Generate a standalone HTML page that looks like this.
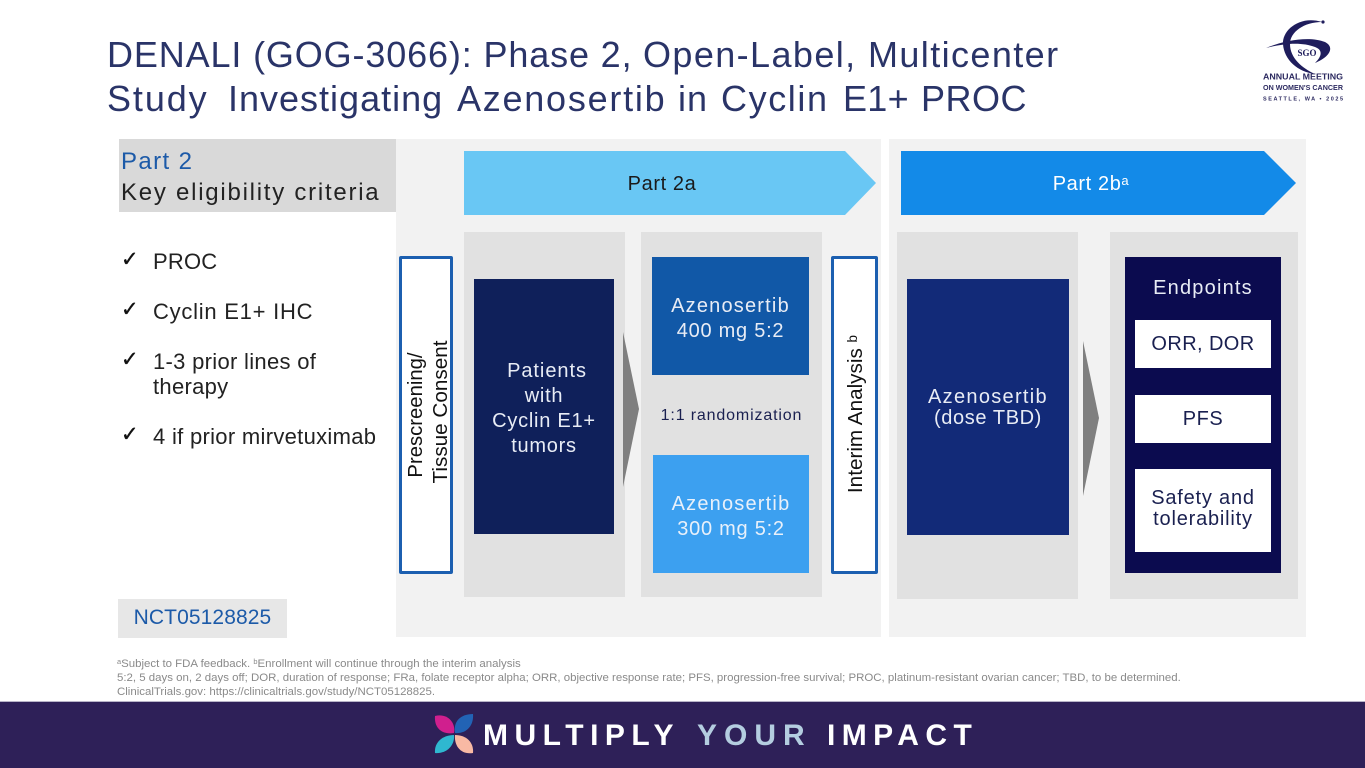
<!DOCTYPE html>
<html><head><meta charset="utf-8"><style>
html,body{margin:0;padding:0;background:#fff}
#p{position:relative;width:1365px;height:768px;overflow:hidden;background:#fff;font-family:"Liberation Sans",sans-serif}
.b{position:absolute}
.t{position:absolute;text-align:center;white-space:nowrap}
.w{position:absolute;white-space:nowrap;font-size:36px;line-height:45px;color:#2a3468}
.c{position:absolute;left:121px;font-family:"DejaVu Sans",sans-serif;font-size:21px;line-height:25px;color:#111;-webkit-text-stroke:.4px #111;white-space:nowrap}
.l{position:absolute;left:153px;font-size:22px;line-height:25px;color:#222;white-space:nowrap}
.m{position:absolute;white-space:nowrap;top:719px;font-size:30px;line-height:34px;font-weight:700}
sup{font-size:65%;line-height:0;vertical-align:baseline;position:relative;top:-.4em}
</style></head><body><div id="p">
<div class="w" style="left:107px;top:32px;letter-spacing:.86px">DENALI (GOG-3066): Phase 2,</div>
<div class="w" style="left:643px;top:32px;letter-spacing:1.4px">Open-Label,</div>
<div class="w" style="left:868px;top:32px;letter-spacing:1.4px">Multicenter</div>
<div class="w" style="left:107px;top:76px;letter-spacing:1.9px">Study</div>
<div class="w" style="left:228px;top:76px;letter-spacing:1px">Investigating</div>
<div class="w" style="left:457px;top:76px;letter-spacing:1.75px">Azenosertib</div>
<div class="w" style="left:678px;top:76px;letter-spacing:1px">in</div>
<div class="w" style="left:721px;top:76px;letter-spacing:1.6px">Cyclin</div>
<div class="w" style="left:843px;top:76px;letter-spacing:.3px">E1+</div>
<div class="w" style="left:921px;top:76px;letter-spacing:.5px">PROC</div>

<div class="b" style="left:396px;top:139px;width:485px;height:498px;background:#f2f2f2"></div>
<div class="b" style="left:889px;top:139px;width:417px;height:498px;background:#f2f2f2"></div>
<div class="b" style="left:119px;top:139px;width:277px;height:73px;background:#d9d9d9"></div>
<div class="t" style="left:121px;top:146px;text-align:left;font-size:24px;line-height:31px;color:#1c5aa8;letter-spacing:1.4px">Part 2<br><span style="color:#222;letter-spacing:1.75px">Key eligibility criteria</span></div>

<div class="b" style="left:464px;top:232px;width:161px;height:365px;background:#e1e1e1"></div>
<div class="b" style="left:641px;top:232px;width:181px;height:365px;background:#e1e1e1"></div>
<div class="b" style="left:897px;top:232px;width:181px;height:367px;background:#e1e1e1"></div>
<div class="b" style="left:1110px;top:232px;width:188px;height:367px;background:#e1e1e1"></div>

<svg class="b" style="left:0;top:0" width="1365" height="768">
<polygon points="464,151 845,151 876,183 845,215 464,215" fill="#69c7f4"/>
<polygon points="901,151 1264,151 1296,183 1264,215 901,215" fill="#138ae8"/>
<polygon points="623,332 639,409 623,487" fill="#7f7f7f"/>
<polygon points="1083,341 1099,418 1083,496" fill="#7f7f7f"/>
</svg>
<div class="t" style="left:464px;top:172px;width:396px;font-size:20px;line-height:24px;color:#1a1a1a;letter-spacing:.6px">Part 2a</div>
<div class="t" style="left:901px;top:172px;width:380px;font-size:20px;line-height:24px;color:#fff;letter-spacing:.6px">Part 2b<sup>a</sup></div>

<div class="c" style="top:247px">✓</div><div class="l" style="top:249px;letter-spacing:.2px">PROC</div>
<div class="c" style="top:297px">✓</div><div class="l" style="top:299px;letter-spacing:.75px">Cyclin E1+ IHC</div>
<div class="c" style="top:347px">✓</div><div class="l" style="top:349px;letter-spacing:.3px">1-3 prior lines of<br>therapy</div>
<div class="c" style="top:422px">✓</div><div class="l" style="top:424px;letter-spacing:.3px">4 if prior mirvetuximab</div>

<div class="b" style="left:118px;top:599px;width:169px;height:39px;background:#e7e7e7"></div>
<div class="t" style="left:118px;top:605px;width:169px;font-size:21px;line-height:26px;color:#1c5aa8;letter-spacing:.1px">NCT05128825</div>

<div class="b" style="left:399px;top:256px;width:48px;height:312px;border:3px solid #1c5fb0;background:#fff;border-radius:2px"></div>
<div class="t" style="left:427px;top:412px;width:0;height:0"><div style="position:absolute;left:-120px;top:-25px;width:240px;height:50px;transform:rotate(-90deg);font-size:20.7px;line-height:25px;color:#111"><span style="position:relative;left:-3px;top:1px;font-size:20.3px">Prescreening/</span><br>Tissue Consent</div></div>
<div class="b" style="left:831px;top:256px;width:41px;height:312px;border:3px solid #1c5fb0;background:#fff;border-radius:2px"></div>
<div class="t" style="left:856px;top:414px;width:0;height:0"><div style="position:absolute;left:-120px;top:-13px;width:240px;height:26px;transform:rotate(-90deg);font-size:20.7px;line-height:26px;color:#111">Interim Analysis <sup>b</sup></div></div>

<div class="b" style="left:474px;top:279px;width:140px;height:255px;background:#0f205a"></div>
<div class="t" style="left:474px;top:359px;width:140px;font-size:20px;line-height:25px;color:#e8ecf5;letter-spacing:.75px"><span style="position:relative;left:3px;letter-spacing:.95px">Patients</span><br>with<br>Cyclin E1+<br>tumors</div>

<div class="b" style="left:652px;top:257px;width:157px;height:118px;background:#1158a7"></div>
<div class="t" style="left:652px;top:294px;width:157px;font-size:20px;line-height:25px;color:#e8ecf5;letter-spacing:.75px"><span style="letter-spacing:1.2px">Azenosertib</span><br>400 mg 5:2</div>
<div class="t" style="left:641px;top:406px;width:181px;font-size:16px;line-height:20px;color:#1a2050;letter-spacing:.85px">1:1 randomization</div>
<div class="b" style="left:653px;top:455px;width:156px;height:118px;background:#3ca0f0"></div>
<div class="t" style="left:653px;top:492px;width:156px;font-size:20px;line-height:25px;color:#e8f0fa;letter-spacing:.75px"><span style="letter-spacing:1.2px">Azenosertib</span><br>300 mg 5:2</div>

<div class="b" style="left:907px;top:279px;width:162px;height:256px;background:#122a78"></div>
<div class="t" style="left:907px;top:387px;width:162px;font-size:20px;line-height:20.5px;color:#e8ecf5;letter-spacing:.6px"><span style="letter-spacing:1.3px">Azenosertib</span><br>(dose TBD)</div>

<div class="b" style="left:1125px;top:257px;width:156px;height:316px;background:#0b0b4f"></div>
<div class="t" style="left:1125px;top:276px;width:156px;font-size:20px;line-height:25px;color:#e8ecf5;letter-spacing:1.2px">Endpoints</div>
<div class="b" style="left:1135px;top:320px;width:136px;height:48px;background:#fff"></div>
<div class="t" style="left:1135px;top:332px;width:136px;font-size:20px;line-height:25px;color:#1a2050;letter-spacing:.4px">ORR, DOR</div>
<div class="b" style="left:1135px;top:395px;width:136px;height:48px;background:#fff"></div>
<div class="t" style="left:1135px;top:407px;width:136px;font-size:20px;line-height:25px;color:#1a2050;letter-spacing:.5px">PFS</div>
<div class="b" style="left:1135px;top:469px;width:136px;height:83px;background:#fff"></div>
<div class="t" style="left:1135px;top:488px;width:136px;font-size:20px;line-height:20.5px;color:#1a2050;letter-spacing:.8px">Safety and<br>tolerability</div>

<div class="t" style="left:117px;top:658px;text-align:left;font-size:11.45px;line-height:13.8px;color:#8a8a8a"><sup>a</sup>Subject to FDA feedback. <sup>b</sup>Enrollment will continue through the interim analysis<br>5:2, 5 days on, 2 days off; DOR, duration of response; FRa, folate receptor alpha; ORR, objective response rate; PFS, progression-free survival; PROC, platinum-resistant ovarian cancer; TBD, to be determined.<br>ClinicalTrials.gov: https://clinicaltrials.gov/study/NCT05128825.</div>

<div class="b" style="left:0;top:701px;width:1365px;height:1px;background:#b8b4c8"></div>
<div class="b" style="left:0;top:702px;width:1365px;height:66px;background:#2e2058"></div>
<svg class="b" style="left:433px;top:713px" width="44" height="44" viewBox="0 0 44 44">
<path d="M2 3 C13 0 23 8 21 20 C9 22 1 15 2 3Z" fill="#d01f8e"/>
<path d="M40 1 C41 13 33 21 22 20 C20 8 28 1 40 1Z" fill="#2263b5"/>
<path d="M2 40 C1 29 10 22 21 22 C22 33 13 41 2 40Z" fill="#2fb8d0"/>
<path d="M40 40 C28 42 21 33 22 22 C33 22 41 29 40 40Z" fill="#f8b9a4"/>
</svg>
<div class="m" style="left:483px;color:#fff;letter-spacing:6.5px">MULTIPLY</div>
<div class="m" style="left:697px;color:#b4cde0;letter-spacing:7px">YOUR</div>
<div class="m" style="left:827px;color:#fff;letter-spacing:6.4px">IMPACT</div>

<svg class="b" style="left:1230px;top:10px" width="130" height="100" viewBox="0 0 130 100">
<path d="M92 12 C70 5 52 20 53 34 C54 50 68 62 85 64 C72 58 60 48 60 34 C60 22 74 12 92 12Z" fill="#1f1d5c"/>
<path d="M36 38 C55 30 80 26 95 32 C105 37 100 47 85 53 C92 46 93 40 85 37 C72 32 55 33 36 38Z" fill="#1f1d5c"/>
<circle cx="93" cy="12" r="1.6" fill="#1f1d5c"/>
<text x="77" y="46" text-anchor="middle" font-family="Liberation Serif,serif" font-size="9" font-weight="700" fill="#1f1d5c">SGO</text>
<text x="33" y="69.5" font-family="Liberation Sans,sans-serif" font-size="8" font-weight="700" fill="#2c2a60" textLength="80" lengthAdjust="spacingAndGlyphs">ANNUAL MEETING</text>
<text x="33" y="80" font-family="Liberation Sans,sans-serif" font-size="7" font-weight="700" fill="#2c2a60" textLength="80" lengthAdjust="spacingAndGlyphs">ON WOMEN'S CANCER</text>
<text x="33" y="90.5" font-family="Liberation Sans,sans-serif" font-size="5.5" font-weight="700" fill="#2c2a60" textLength="80">SEATTLE, WA • 2025</text>
</svg>
</div></body></html>
